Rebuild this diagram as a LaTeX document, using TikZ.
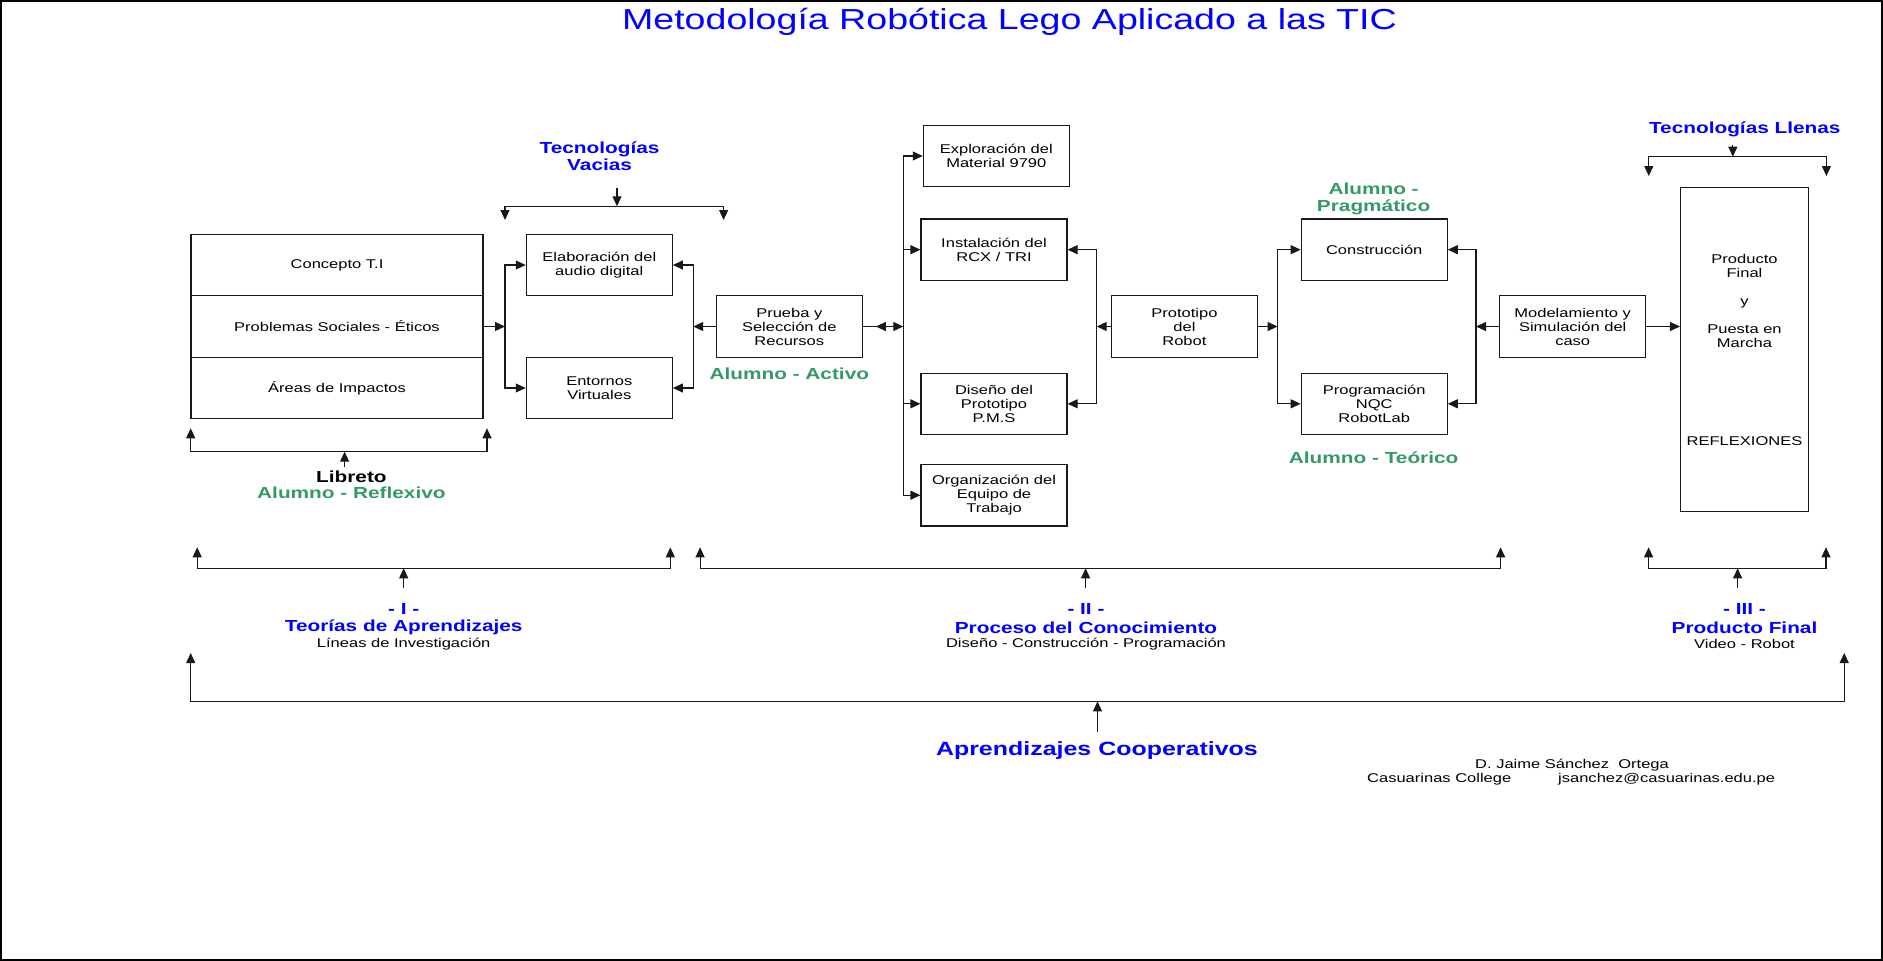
\documentclass[tikz,border=0pt]{standalone}
\usepackage{fontspec}
\setmainfont[FakeStretch=1.3]{Liberation Sans}
\usetikzlibrary{arrows.meta}

\definecolor{azul}{RGB}{0,0,255}
\definecolor{verde}{RGB}{51,153,102}

\tikzset{
  caja/.style={draw=black!90, line width=1.1pt, minimum width=146pt, minimum height=61.5pt,
    inner sep=0pt, align=center, font=\fontsize{12.7}{14}\selectfont},
  flecha/.style={draw=black!90, line width=1.1pt, -{Triangle[length=10pt,width=9pt]}},
  rotulo/.style={font=\bfseries\fontsize{16}{17}\selectfont, align=center, inner sep=0pt},
  texto/.style={font=\fontsize{12.7}{14}\selectfont, inner sep=0pt},
}

\begin{document}
\begin{tikzpicture}[x=1pt,y=-1pt]
    \useasboundingbox (0,0) rectangle (1883,961);
    \draw[line width=1.6pt] (0.8,0.8) rectangle (1882.2,960.2);

    \node[font=\fontsize{28.9}{30}\selectfont, text=azul] (titulo) at (1009.5,21.7) {Metodología Robótica Lego Aplicado a las TIC};

    % bloque del libreto
    \node[caja, minimum width=292pt] (concepto) at (337,265) {Concepto T.I};
    \node[caja, minimum width=292pt] (problemas) at (337,326.5) {Problemas Sociales - Éticos};
    \node[caja, minimum width=292pt] (areas) at (337,388) {Áreas de Impactos};

    \node[caja] (audio) at (599.3,265) {Elaboración del\\audio digital};
    \node[caja] (entornos) at (599.3,388) {Entornos\\Virtuales};
    \node[caja] (prueba) at (789.3,326.5) {Prueba y\\Selección de\\Recursos};

    \node[caja] (material) at (996.3,156) {Exploración del\\Material 9790};
    \node[caja] (rcx) at (994,249.7) {Instalación del\\RCX / TRI};
    \node[caja] (diseno) at (994,403.8) {Diseño del\\Prototipo\\P.M.S};
    \node[caja] (equipo) at (994,495.2) {Organización del\\Equipo de\\Trabajo};

    \node[caja] (prototipo) at (1184.4,326.5) {Prototipo\\del\\Robot};
    \node[caja] (construccion) at (1374.2,249.7) {Construcción};
    \node[caja] (programacion) at (1374.2,403.8) {Programación\\NQC\\RobotLab};
    \node[caja] (modelo) at (1572.7,326.5) {Modelamiento y\\Simulación del\\caso};
    \node[caja, minimum width=128pt, minimum height=324.4pt] (producto) at (1744.5,349.5)
        {Producto\\Final\\[14pt]y\\[14pt]Puesta en\\Marcha\\[84pt]REFLEXIONES};

    % rotulos
    \node[rotulo, text=azul] (vacias) at (599.6,156) {Tecnologías\\Vacias};
    \node[rotulo, text=azul] (llenas) at (1744.8,129) {Tecnologías Llenas};
    \node[rotulo] (libreto) at (351.4,476.7) {Libreto};
    \node[rotulo, text=verde] (reflexivo) at (351.4,492.7) {Alumno - Reflexivo};
    \node[rotulo, text=verde] (activo) at (789.3,373.3) {Alumno - Activo};
    \node[rotulo, text=verde] (pragmatico) at (1373.6,198.5) {Alumno -\\Pragmático};
    \node[rotulo, text=verde] (teorico) at (1373.6,457.7) {Alumno - Teórico};

    \node[rotulo, text=azul] (etapa1) at (403.7,609) {- I -};
    \node[rotulo, text=azul] (teorias) at (403.7,627.7) {Teorías de Aprendizajes};
    \node[texto] (lineas) at (403.7,644) {Líneas de Investigación};
    \node[rotulo, text=azul] (etapa2) at (1086,609) {- II -};
    \node[rotulo, text=azul] (proceso) at (1086,627.7) {Proceso del Conocimiento};
    \node[texto] (fases) at (1086,644) {Diseño - Construcción - Programación};
    \node[rotulo, text=azul] (etapa3) at (1744.5,609) {- III -};
    \node[rotulo, text=azul] (final) at (1744.5,627.7) {Producto Final};
    \node[texto] (video) at (1744.5,644) {Video - Robot};

    \node[font=\bfseries\fontsize{19.2}{21}\selectfont, text=azul] (cooperativos) at (1096.9,751) {Aprendizajes Cooperativos};
    \node[texto] (autor) at (1572,765) {D. Jaime Sánchez\ \ Ortega};
    \node[texto, anchor=west] (colegio) at (1367,779) {Casuarinas College};
    \node[texto, anchor=west] (correo) at (1558,779) {jsanchez@casuarinas.edu.pe};

    % conectores
    \coordinate (b1) at (505,326.5);
    \draw[flecha] (problemas.east) -- (b1);
    \draw[flecha] (b1) |- (audio.west);
    \draw[flecha] (b1) |- (entornos.west);

    \coordinate (b2) at (693.2,326.5);
    \draw[flecha] (prueba.west) -- (b2);
    \draw[flecha] (b2) |- (audio.east);
    \draw[flecha] (b2) |- (entornos.east);

    \coordinate (b3) at (903.3,326.5);
    \draw[flecha] (prueba.east) -- (b3);
    \draw[flecha, shorten >=13pt] (b3) -- (prueba.east);
    \draw[flecha] (b3) |- (material.west);
    \draw[flecha] (b3) |- (rcx.west);
    \draw[flecha] (b3) |- (diseno.west);
    \draw[flecha] (b3) |- (equipo.west);

    \coordinate (b4) at (1096.7,326.5);
    \draw[flecha] (prototipo.west) -- (b4);
    \draw[flecha] (b4) |- (rcx.east);
    \draw[flecha] (b4) |- (diseno.east);

    \coordinate (b5) at (1277.6,326.5);
    \draw[flecha] (prototipo.east) -- (b5);
    \draw[flecha] (b5) |- (construccion.west);
    \draw[flecha] (b5) |- (programacion.west);

    \coordinate (b6) at (1476,326.5);
    \draw[flecha] (modelo.west) -- (b6);
    \draw[flecha] (b6) |- (construccion.east);
    \draw[flecha] (b6) |- (programacion.east);
    \draw[flecha] (modelo.east) -- (modelo.east -| producto.west);

    % llaves de tecnologias
    \coordinate (vs) at (617,187.7);
    \coordinate (vm) at (617,206.3);
    \coordinate (v1) at (505,220);
    \coordinate (v2) at (723.6,220);
    \draw[flecha] (vs) -- (vm);
    \draw[flecha] (vm) -| (v1);
    \draw[flecha] (vm) -| (v2);

    \coordinate (ls) at (1732.8,145);
    \coordinate (lm) at (1732.8,156.7);
    \coordinate (l1) at (1648.8,176);
    \coordinate (l2) at (1826.4,176);
    \draw[flecha] (ls) -- (lm);
    \draw[flecha] (lm) -| (l1);
    \draw[flecha] (lm) -| (l2);

    % llave del libreto
    \coordinate (rs) at (344.6,466.7);
    \coordinate (rm) at (344.6,451.7);
    \coordinate (r1) at (190.7,428.3);
    \coordinate (r2) at (487,428.3);
    \draw[flecha] (rs) -- (rm);
    \draw[flecha] (rm) -| (r1);
    \draw[flecha] (rm) -| (r2);

    % etapas I, II y III
    \coordinate (e1s) at (403.7,588.3);
    \coordinate (e1m) at (403.7,568.3);
    \coordinate (e1a) at (197.2,547.3);
    \coordinate (e1b) at (670.3,547.3);
    \draw[flecha] (e1s) -- (e1m);
    \draw[flecha] (e1m) -| (e1a);
    \draw[flecha] (e1m) -| (e1b);

    \coordinate (e2s) at (1085.6,588.3);
    \coordinate (e2m) at (1085.6,568.3);
    \coordinate (e2a) at (700.1,547.3);
    \coordinate (e2b) at (1500.6,547.3);
    \draw[flecha] (e2s) -- (e2m);
    \draw[flecha] (e2m) -| (e2a);
    \draw[flecha] (e2m) -| (e2b);

    \coordinate (e3s) at (1737.6,588.3);
    \coordinate (e3m) at (1737.6,568.3);
    \coordinate (e3a) at (1648.6,547.3);
    \coordinate (e3b) at (1826,547.3);
    \draw[flecha] (e3s) -- (e3m);
    \draw[flecha] (e3m) -| (e3a);
    \draw[flecha] (e3m) -| (e3b);

    % aprendizajes cooperativos
    \coordinate (cs) at (1097.5,732.3);
    \coordinate (cm) at (1097.5,701.3);
    \coordinate (ca) at (190.7,653);
    \coordinate (cb) at (1844.2,653);
    \draw[flecha] (cs) -- (cm);
    \draw[flecha] (cm) -| (ca);
    \draw[flecha] (cm) -| (cb);
\end{tikzpicture}
\end{document}
